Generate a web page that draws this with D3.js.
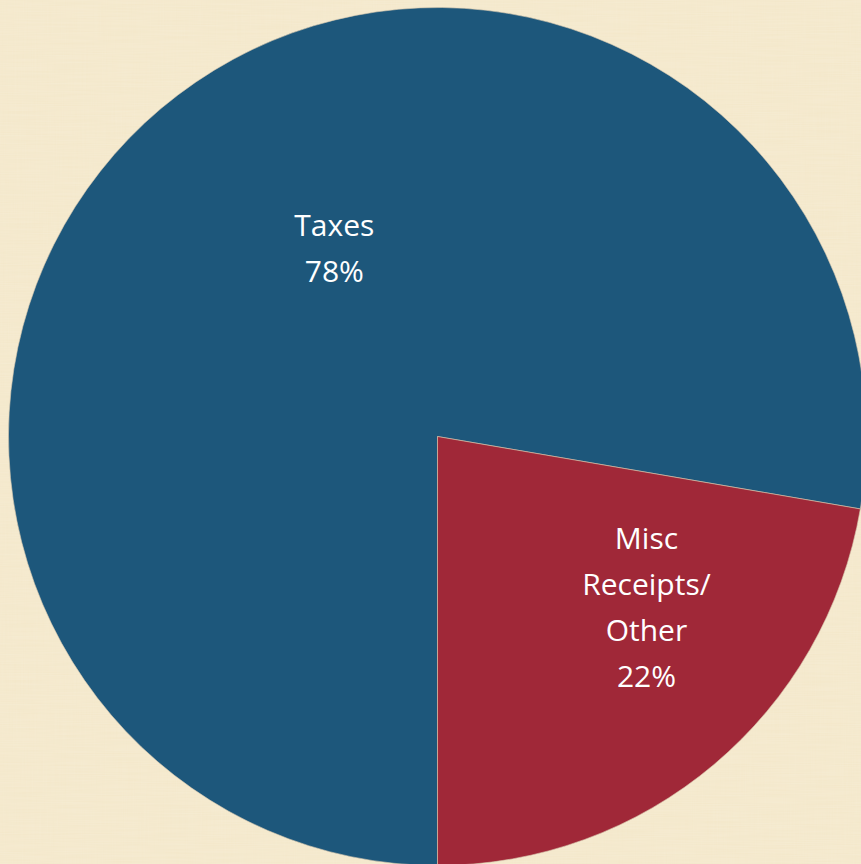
<!DOCTYPE html>
<html>
<head>
<meta charset="utf-8">
<script src="https://cdn.jsdelivr.net/npm/d3@7"></script>
<style>
  html, body { margin: 0; padding: 0; background: #f3e6c7; overflow: hidden; }
  svg { display: block; }
</style>
</head>
<body>
<svg id="chart" width="861" height="864"></svg>
<script>
// slices
const categories = ["Taxes", "Misc Receipts/ Other"];
const labelLines = [["Taxes"], ["Misc", "Receipts/", "Other"]];
const shares = [77.7, 22.3];
const sliceColors = ["#1d577b", "#a02838"];

const width = 861;
const height = 864;
const cx = 437.5, cy = 436.5, radius = 429;

// where Excel put each label: angle shift (deg) from slice middle and fraction of radius
const labelPlace = [{shift: 11.4, frac: 0.50}, {shift: -10.5, frac: 0.63}];

const svg = d3.select('#chart');

// parchment texture for the backdrop
const defs = svg.append('defs');
const filt = defs.append('filter').attr('id', 'paper')
  .attr('x', 0).attr('y', 0).attr('width', '100%').attr('height', '100%');
filt.append('feTurbulence').attr('type', 'fractalNoise')
  .attr('baseFrequency', '0.9 0.02').attr('numOctaves', 2).attr('seed', 3).attr('result', 'n1');
filt.append('feColorMatrix').attr('in', 'n1').attr('type', 'matrix')
  .attr('values', '0 0 0 0 0.93  0 0 0 0 0.86  0 0 0 0 0.70  0 0 0 0.22 0').attr('result', 'c1');
filt.append('feTurbulence').attr('type', 'fractalNoise')
  .attr('baseFrequency', '0.02 0.9').attr('numOctaves', 2).attr('seed', 7).attr('result', 'n2');
filt.append('feColorMatrix').attr('in', 'n2').attr('type', 'matrix')
  .attr('values', '0 0 0 0 0.99  0 0 0 0 0.95  0 0 0 0 0.85  0 0 0 0.22 0').attr('result', 'c2');
filt.append('feMerge').selectAll('feMergeNode')
  .data(['SourceGraphic', 'c1', 'c2']).enter().append('feMergeNode').attr('in', d => d);

svg.append('rect').attr('width', width).attr('height', height)
  .attr('fill', '#f3e6c7').attr('filter', 'url(#paper)');

const data = categories.map((c, i) => ({name: c, value: shares[i], lines: labelLines[i], i}));
const total = d3.sum(shares);
const pct = d3.format('.0%');

const pie = d3.pie().value(d => d.value).sort(null)
  .startAngle(Math.PI).endAngle(3 * Math.PI);
const arc = d3.arc().innerRadius(0).outerRadius(radius);

const g = svg.append('g').attr('transform', `translate(${cx},${cy})`);

g.selectAll('path.slice').data(pie(data))
  .enter().append('path')
  .attr('class', 'slice')
  .attr('d', arc)
  .attr('fill', d => sliceColors[d.data.i])
  .attr('stroke', '#d9c9b0')
  .attr('stroke-width', 0.6);

// labels
const lineH = 46;
const labels = g.selectAll('text.lbl').data(pie(data))
  .enter().append('text')
  .attr('class', 'lbl')
  .attr('text-anchor', 'middle')
  .attr('font-family', '"Open Sans", Lato, sans-serif')
  .attr('font-size', 30)
  .attr('fill', '#ffffff')
  .each(function(d) {
    const p = labelPlace[d.data.i];
    const a = (d.startAngle + d.endAngle) / 2 + p.shift * Math.PI / 180;
    const r = radius * p.frac;
    const x = r * Math.sin(a);
    const y = -r * Math.cos(a);
    const lines = d.data.lines.concat([pct(d.data.value / total)]);
    const top = y - (lines.length - 1) * lineH / 2;
    d3.select(this).selectAll('tspan').data(lines)
      .enter().append('tspan')
      .attr('x', x)
      .attr('y', (t, k) => top + k * lineH)
      .attr('dy', '0.35em')
      .text(t => t);
  });
</script>
</body>
</html>
